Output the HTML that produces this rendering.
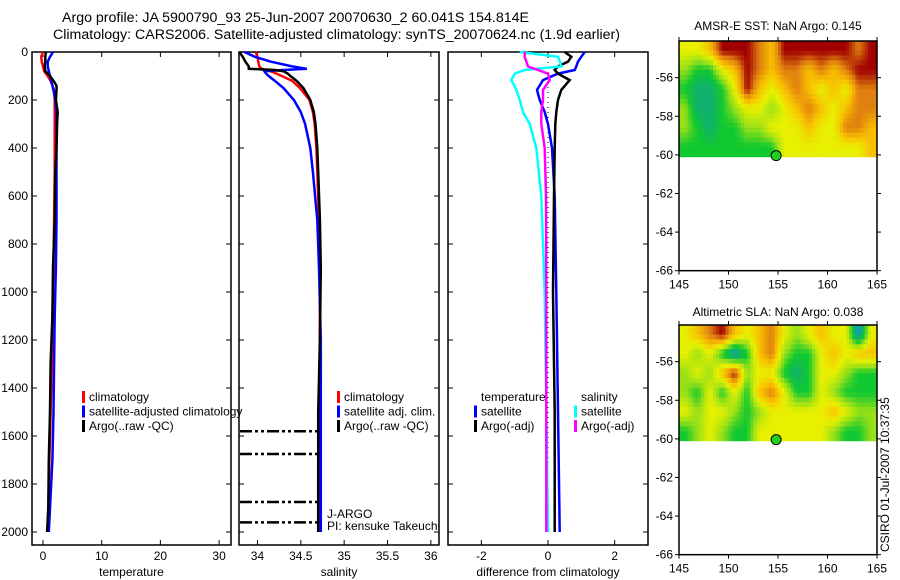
<!DOCTYPE html>
<html><head><meta charset="utf-8"><style>
body{margin:0;background:#fff}
svg{display:block;font-family:"Liberation Sans",sans-serif}
text{fill:#000}
</style></head><body>
<svg id="c" width="900" height="580" viewBox="0 0 900 580">
<text x="62" y="22" font-size="14.2">Argo profile: JA 5900790_93 25-Jun-2007 20070630_2 60.041S 154.814E</text>
<text x="53" y="39" font-size="14.2">Climatology: CARS2006. Satellite-adjusted climatology: synTS_20070624.nc (1.9d earlier)</text>
<text x="778" y="30" font-size="12" text-anchor="middle">AMSR-E SST: NaN Argo: 0.145</text>
<text x="778" y="316" font-size="12" text-anchor="middle">Altimetric SLA: NaN Argo: 0.038</text>
<text transform="translate(889,552) rotate(-90)" font-size="12">CSIRO 01-Jul-2007 10:37:35</text>
</svg>
<script>
const tDepth=[0,20,40,60,80,100,120,140,160,200,250,300,400,500,700,900,1100,1300,1500,1700,1900,2000];
const tClim=[0,-0.3,-0.2,0,0.2,0.8,1.3,1.6,1.9,2.0,2.0,2.0,2.0,2.0,1.9,1.8,1.6,1.5,1.3,1.1,0.9,0.8];
const tSat=[1.7,1.2,0.8,0.8,1.0,1.2,1.4,1.6,1.8,2.1,2.3,2.3,2.3,2.3,2.3,2.2,2.0,1.9,1.8,1.6,1.2,1.0];
const tArgo=[0.5,0.4,0.4,0.3,0.4,1.2,1.8,2.3,2.3,2.2,2.5,2.4,2.3,2.1,2.0,1.7,1.6,1.3,1.2,1.0,0.9,0.7];
const sDepth=[0,20,40,60,70,75,80,90,100,120,150,200,250,300,400,500,700,900,1200,1500,1800,2000];
const sClim=[33.98,34.0,34.01,34.02,34.05,34.1,34.15,34.22,34.28,34.4,34.49,34.6,34.64,34.66,34.68,34.69,34.71,34.72,34.72,34.71,34.7,34.7];
const sSat=[33.85,33.97,34.15,34.4,34.57,34.3,34.08,34.1,34.13,34.2,34.3,34.42,34.5,34.55,34.61,34.64,34.69,34.71,34.73,34.73,34.73,34.73];
const sArgo=[33.79,33.83,33.86,33.9,33.9,34.2,34.3,34.35,34.38,34.45,34.53,34.61,34.65,34.67,34.69,34.7,34.72,34.73,34.72,34.7,34.7,34.7];
const dDepth=[0,20,40,60,75,90,117,158,200,250,300,400,600,1000,1500,2000];
const dTSat=[1.1,1.0,0.9,0.85,0.8,0.3,-0.15,-0.33,-0.25,-0.1,0.0,0.12,0.2,0.25,0.3,0.35];
const dTArgo=[0.5,0.7,0.6,0.3,0.2,0.3,0.65,0.4,0.3,0.25,0.22,0.2,0.18,0.15,0.2,0.2];
const dSSat=[-0.85,0.3,0.36,0.4,-0.7,-1.0,-1.1,-0.95,-0.85,-0.75,-0.55,-0.35,-0.2,-0.1,-0.05,0.0];
const dSArgo=[-0.7,-0.7,-0.65,-0.6,-0.3,0.0,0.05,-0.15,-0.15,-0.2,-0.2,-0.1,-0.06,-0.05,-0.05,-0.05];
const qcDepths=[1580,1675,1875,1960];
const depthTicks=[0,200,400,600,800,1000,1200,1400,1600,1800,2000];
const tempTicks=[0,10,20,30];
const salTicks=[34,34.5,35,35.5,36];
const diffTicks=[-2,0,2];
const latTicks=[-56,-58,-60,-62,-64,-66];
const lonTicks=[145,150,155,160,165];
const sstGrid=[
[3,3,4,6,6,6,5,4,6,6,6,6,6,6,5,6],
[2,1,1,3,4,6,5,4,5,5,4,5,4,5,6,6],
[1,0,0,1,3,6,4,3,4,5,4,3,4,3,5,5],
[2,0,0,1,2,3,3,2,3,4,5,4,3,4,5,5],
[2,1,0,1,1,2,2,3,3,3,4,3,3,5,5,4],
[1,1,1,1,1,1,1,1,3,3,3,3,3,3,3,4]];
const slaGrid=[
[3,4,5,6,4,3,4,5,3,2,3,4,3,3,-1,3],
[3,2,3,1,-1,1,4,5,2,1,1,3,4,3,4,4],
[2,3,2,4,6,2,3,3,1,0,1,3,3,2,1,1],
[2,1,3,1,3,1,4,5,3,1,1,3,2,1,1,1],
[3,2,3,3,2,1,2,3,3,3,3,3,4,3,2,2],
[1,2,3,2,1,1,3,3,3,3,3,3,2,1,1,2]];
const cmapStops=[[16,144,232],[16,176,112],[16,200,48],[152,224,24],[232,240,0],[248,192,0],[224,128,16],[160,0,0]];
const argoLon=154.814, argoLat=-60.041;

const svg=document.getElementById('c');const NS='http://www.w3.org/2000/svg';
function el(tag,attrs,parent){const e=document.createElementNS(NS,tag);for(const k in attrs)e.setAttribute(k,attrs[k]);(parent||svg).appendChild(e);return e;}
function txt(x,y,s,size,anchor){const t=el('text',{x:x,y:y,'font-size':size||12,'text-anchor':anchor||'start'});t.textContent=s;return t;}
const y0=52,y1=532,yd=d=>y0+(d-0)*(y1-y0)/2000;
function panel(name,x0,x1,xmin,xmax,xt,label){
  const xs=v=>x0+(v-xmin)*(x1-x0)/(xmax-xmin);
  const g=el('g',{});
  
  
  el('rect',{x:x0,y:y0,width:x1-x0,height:545-y0,fill:'none',stroke:'#000','stroke-width':1.5},g);
  xt.forEach(v=>{const x=xs(v);el('line',{x1:x,x2:x,y1:545,y2:540,stroke:'#000'},g);el('line',{x1:x,x2:x,y1:y0,y2:y0+5,stroke:'#000'},g);const t=txt(x,560,String(v),12,'middle');g.appendChild(t);});
  depthTicks.forEach(d=>{const y=yd(d);el('line',{x1:x0,x2:x0+5,y1:y,y2:y,stroke:'#000'},g);el('line',{x1:x1,x2:x1-5,y1:y,y2:y,stroke:'#000'},g);});
  const lt=txt((x0+x1)/2,576,label,12,'middle');g.appendChild(lt);
  return {xs,g};
}
function line(p,depths,vals,color,name,w){
  const pts=depths.map((d,i)=>p.xs(vals[i]).toFixed(1)+','+yd(d).toFixed(1)).join(' ');
  const l=el('polyline',{points:pts,fill:'none',stroke:color,'stroke-width':w||2.5},p.g);
  
  
}
function legend(p,x,y,items){
  items.forEach((it,i)=>{const yy=y+i*14.5;
    if(it[0])el('rect',{x:x,y:yy-10,width:3,height:12,fill:it[0]},p.g);
    const t=txt(x+7,yy,it[1],12);p.g.appendChild(t);
    
    });
}
depthTicks.forEach(d=>{const t=txt(28,yd(d)+4,String(d),12,'end');});
const pT=panel('temperature-panel',32,231,-1.87,32.03,tempTicks,'temperature');
line(pT,tDepth,tClim,'#f00','temp-climatology-line');
line(pT,tDepth,tSat,'#00f','temp-satellite-line');
line(pT,tDepth,tArgo,'#000','temp-argo-line');
legend(pT,82,401,[['#f00','climatology'],['#00f','satellite-adjusted climatology'],['#000','Argo(..raw -QC)']]);
const pS=panel('salinity-panel',239,439,33.787,36.094,salTicks,'salinity');
qcDepths.forEach(d=>{const l=el('line',{x1:240,x2:pS.xs(34.72),y1:yd(d),y2:yd(d),stroke:'#000','stroke-width':2.5,'stroke-dasharray':'12,3,3,3,3,3'},pS.g);});
line(pS,sDepth,sClim,'#f00','sal-climatology-line');
line(pS,sDepth,sSat,'#00f','sal-satellite-line');
line(pS,sDepth,sArgo,'#000','sal-argo-line');
legend(pS,337,401,[['#f00','climatology'],['#00f','satellite adj. clim.'],['#000','Argo(..raw -QC)']]);
pS.g.appendChild(txt(327,518,'J-ARGO',12));pS.g.appendChild(txt(327,530,'PI: kensuke Takeuchi',12));
const pD=panel('difference-panel',448,648,-3.0,3.0,diffTicks,'difference from climatology');
el('line',{x1:pD.xs(0),x2:pD.xs(0),y1:y0,y2:yd(2000),stroke:'#000','stroke-dasharray':'1,4'},pD.g);
line(pD,dDepth,dTSat,'#00f','diff-temp-satellite-line');
line(pD,dDepth,dTArgo,'#000','diff-temp-argo-line');
line(pD,dDepth,dSSat,'#0ff','diff-sal-satellite-line');
line(pD,dDepth,dSArgo,'#f0f','diff-sal-argo-line');
legend(pD,474,401,[[null,'temperature'],['#00f','satellite'],['#000','Argo(-adj)']]);
legend(pD,574,401,[[null,'salinity'],['#0ff','satellite'],['#f0f','Argo(-adj)']]);
function colorOf(v){v=Math.max(-1,Math.min(6,v));const f=v+1,i=Math.min(6,Math.floor(f)),t=f-i;const a=cmapStops[i],b=cmapStops[i+1];
  return 'rgb('+a.map((c,k)=>Math.round(c+(b[k]-c)*t)).join(',')+')';}
function sample(grid,fy,fx){const R=grid.length,C=grid[0].length;
  fy=Math.max(0,Math.min(R-1,fy));fx=Math.max(0,Math.min(C-1,fx));
  const i=Math.min(R-2,Math.floor(fy)),j=Math.min(C-2,Math.floor(fx)),ty=fy-i,tx=fx-j;
  return grid[i][j]*(1-ty)*(1-tx)+grid[i][j+1]*(1-ty)*tx+grid[i+1][j]*ty*(1-tx)+grid[i+1][j+1]*ty*tx;}
function map(name,top,grid){
  const x0=679,x1=877,latTop=-54.1,ppd=19.3;
  const xs=l=>x0+(l-145)*(x1-x0)/20, ys=la=>top+(latTop-la)*ppd;
  const g=el('g',{});
  
  
  const rows=grid.length,cols=grid[0].length,sub=4,R=rows*sub,C=cols*sub;
  const ch=(ys(-60.1)-top)/R,cw=(x1-x0)/C;
  for(let i=0;i<R;i++)for(let j=0;j<C;j++){
    const v=sample(grid,(i+0.5)/sub-0.5,(j+0.5)/sub-0.5);
    const c=el('rect',{x:(x0+j*cw).toFixed(2),y:(top+i*ch).toFixed(2),width:(cw+0.4).toFixed(2),height:(ch+0.4).toFixed(2),fill:colorOf(v)},g);
    
    
  }
  const bottom=ys(-66);
  el('rect',{x:x0,y:top,width:x1-x0,height:bottom-top,fill:'none',stroke:'#000','stroke-width':1.5},g);
  latTicks.forEach(la=>{const y=ys(la);el('line',{x1:x0,x2:x0-4,y1:y,y2:y,stroke:'#000'},g);el('line',{x1:x1,x2:x1+4,y1:y,y2:y,stroke:'#000'},g);g.appendChild(txt(x0-6,y+4,String(la),12,'end'));});
  lonTicks.forEach(lo=>{const x=xs(lo);el('line',{x1:x,x2:x,y1:bottom,y2:bottom+4,stroke:'#000'},g);el('line',{x1:x,x2:x,y1:top,y2:top-4,stroke:'#000'},g);g.appendChild(txt(x,bottom+18,String(lo),12,'middle'));});
  const m=el('circle',{cx:xs(argoLon),cy:ys(argoLat),r:5,fill:'#20d020',stroke:'#000'},g);
  
  
}
map('sst-map',41,sstGrid);
map('sla-map',325,slaGrid);
</script>
</body></html>
